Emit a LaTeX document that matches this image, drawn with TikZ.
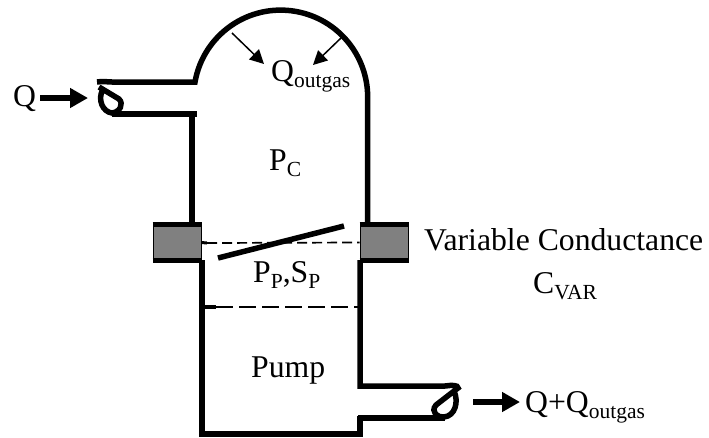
\documentclass[tikz,border=0pt]{standalone}
\usepackage{fontspec}
\setmainfont{Liberation Serif}
\usetikzlibrary{positioning,arrows.meta}

\tikzset{
	wall/.style={line width=5.5pt, line join=miter},
	label/.style={font=\fontsize{31.7}{36}\selectfont, inner sep=0pt, anchor=base west},
	gaugeline/.style={line width=1.7pt},
	flow/.style={line width=6.5pt, -{Triangle[length=18pt,width=19pt]}},
	gasin/.style={line width=1.5pt, -{Triangle[length=14pt,width=14pt]}},
	flange/.style={draw=black, line width=1pt, fill=black!50, minimum width=48pt, minimum height=35pt, inner sep=0pt}
}

\newcommand{\lowtxt}[1]{\raisebox{-6.5pt}{\fontsize{21.5}{24}\selectfont #1}}

\begin{document}
\begin{tikzpicture}[x=1pt, y=-1pt]

	\useasboundingbox (0,0) rectangle (709,437);

	%% Chamber
	\draw[wall] (97,82) .. controls (103,81) and (108,82) .. (112,82) -- (195,82)
		arc[start angle=190, end angle=360, radius=87] -- ++(0,128);
	\draw[wall] (99,87) -- (119,99) .. controls (124,104) and (120,112) .. (112,113)
		.. controls (103,112) and (97,100) .. (103,89);
	\draw[wall] (112,114) -- (197,114);
	\draw[wall] (192,114) -- (192,225);

	%% Flanges
	\node[flange] (flange_l) at (177,242.5) {};
	\node[flange] (flange_r) at (384,242.5) {};
	\draw[wall] (flange_l.north west) -- (flange_l.north east);
	\draw[wall] (flange_l.south west) -- (flange_l.south east);
	\draw[wall] (flange_r.north west) -- (flange_r.north east);
	\draw[wall] (flange_r.south west) -- (flange_r.south east);

	%% Pump body
	\draw[wall] (202,260) -- (202,434) -- (360,434) -- (360,416);
	\draw[wall] (360,260) -- (360,386) -- (445,386) .. controls (452,385) and (458,385) .. (458,388)
		-- (436,405) .. controls (430,412) and (438,418) .. (444,417)
		.. controls (455,416) and (459,402) .. (454,391);
	\draw[wall] (358,418) -- (445,418);

	%% Valve
	\coordinate (valve_a) at (218,258);
	\coordinate (valve_b) at (344,226);
	\draw[wall] (valve_a) -- (valve_b);
	\coordinate (gauge_l) at (207,243);
	\draw[gaugeline, dash pattern=on 10pt off 5pt] (gauge_l) -- (flange_r.west);
	\draw[line width=3pt] (flange_l.east) -- (gauge_l);
	\coordinate (pump_l) at (216,307);
	\coordinate (pump_r) at (358,307);
	\draw[gaugeline, dash pattern=on 17pt off 6pt] (pump_l) -- (pump_r);
	\draw[line width=3.5pt] (pump_l) -- ++(-12,0);

	%% Labels
	\node[label] (q_in) at (13,106) {Q};
	\node[label] (q_gas) at (271,81) {Q\lowtxt{outgas}};
	\node[label] (p_c) at (269,170) {P\lowtxt{C}};
	\node[label] (p_p) at (253,282) {P\lowtxt{P},S\lowtxt{P}};
	\node[label] (pump) at (251,377) {Pump};
	\node[label] (var_c) at (424,250) {Variable Conductance};
	\node[label] (c_var) at (533,293) {C\lowtxt{VAR}};
	\node[label] (q_out) at (525,412) {Q+Q\lowtxt{outgas}};

	%% Arrows
	\coordinate (in_a) at (40,98);
	\coordinate (in_b) at (88,98);
	\draw[flow] (in_a) -- (in_b);
	\coordinate (out_a) at (473,402);
	\coordinate (out_b) at (520,402);
	\draw[flow] (out_a) -- (out_b);
	\coordinate (dome_l) at (232,33);
	\coordinate (dome_r) at (341,38);
	\draw[gasin] (dome_l) -- (264,64);
	\draw[gasin] (dome_r) -- (313,65);

\end{tikzpicture}
\end{document}
